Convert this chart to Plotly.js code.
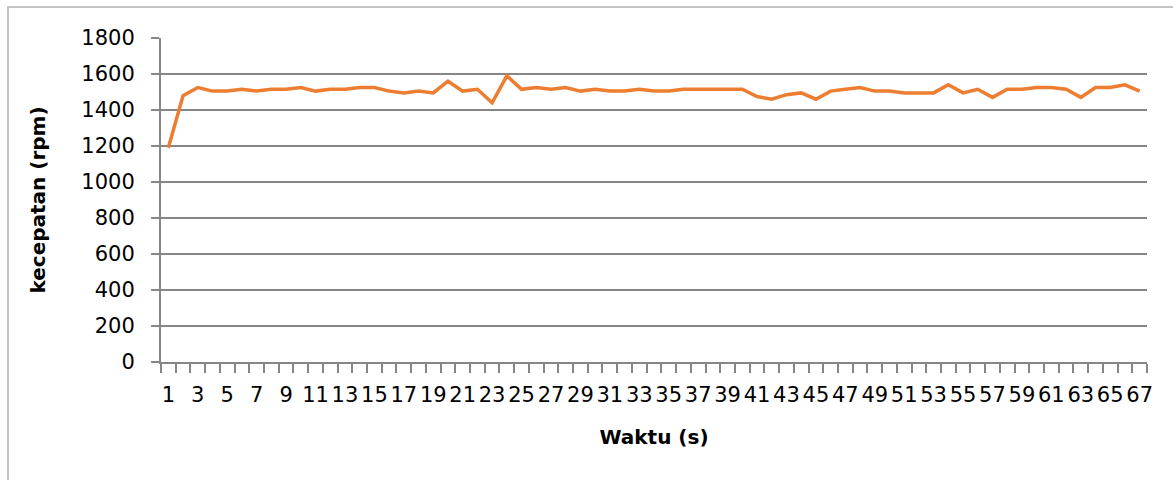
<!DOCTYPE html>
<html>
<head>
<meta charset="utf-8">
<script src="https://cdn.plot.ly/plotly-3.0.1.min.js"></script>
<style>
  html, body { margin: 0; padding: 0; background: #ffffff; }
  #wrap { position: relative; width: 1173px; height: 480px; overflow: hidden; background: #ffffff; }
  #frame { position: absolute; left: 7px; top: 6px; width: 1400px; height: 700px;
           border-left: 2px solid #c4c4c4; border-top: 2px solid #c4c4c4; }
  #chart { position: absolute; left: 0; top: 0; width: 1173px; height: 480px; }
</style>
</head>
<body>
<div id="wrap">
  <div id="frame"></div>
  <div id="chart"></div>
</div>
<script>
// Time (s)
const waktu = [1,2,3,4,5,6,7,8,9,10,11,12,13,14,15,16,17,18,19,20,
  21,22,23,24,25,26,27,28,29,30,31,32,33,34,35,36,37,38,39,40,
  41,42,43,44,45,46,47,48,49,50,51,52,53,54,55,56,57,58,59,60,
  61,62,63,64,65,66,67];
// Speed (rpm)
const kecepatan = [1190,1480,1525,1505,1505,1515,1505,1515,1515,1525,
  1505,1515,1515,1525,1525,1505,1495,1505,1495,1560,
  1505,1515,1440,1590,1515,1525,1515,1525,1505,1515,
  1505,1505,1515,1505,1505,1515,1515,1515,1515,1515,
  1475,1460,1485,1495,1460,1505,1515,1525,1505,1505,
  1495,1495,1495,1540,1495,1515,1470,1515,1515,1525,
  1525,1515,1470,1525,1525,1540,1505];
// Labelled x ticks
const xTickLabels = [1,3,5,7,9,11,13,15,17,19,21,23,25,27,29,31,33,35,37,39,
  41,43,45,47,49,51,53,55,57,59,61,63,65,67];
const yTicks = [0,200,400,600,800,1000,1200,1400,1600,1800];

const axisGray = '#868686';
const fontFam = '"DejaVu Sans", sans-serif';

const trace = {
  x: waktu,
  y: kecepatan,
  type: 'scatter',
  mode: 'lines',
  line: { color: '#ED7D31', width: 3.5 },
  hoverinfo: 'x+y'
};

const layout = {
  width: 1173,
  height: 480,
  paper_bgcolor: 'rgba(0,0,0,0)',
  plot_bgcolor: 'rgba(0,0,0,0)',
  margin: { l: 161, r: 26, t: 38, b: 118 },
  showlegend: false,
  font: { family: fontFam, color: '#000000', size: 21 },
  xaxis: {
    range: [0.5, 67.5],
    tickmode: 'array',
    tickvals: xTickLabels,
    ticktext: xTickLabels.map(String),
    ticks: '',
    ticklabelstandoff: 13,
    tickfont: { family: fontFam, size: 21, color: '#000000' },
    showgrid: false,
    zeroline: false,
    showline: true,
    linecolor: axisGray,
    linewidth: 2,
    minor: { ticks: 'outside', tick0: 0.5, dtick: 1, ticklen: 9, tickwidth: 2, tickcolor: axisGray, showgrid: false },
    title: { text: 'Waktu (s)', font: { family: fontFam, size: 20, color: '#000000', weight: 'bold' }, standoff: 24 }
  },
  yaxis: {
    range: [0, 1800],
    tickmode: 'array',
    tickvals: yTicks,
    ticktext: yTicks.map(String),
    ticks: 'outside',
    ticklen: 8,
    tickwidth: 2,
    tickcolor: axisGray,
    ticklabelstandoff: 12,
    tickfont: { family: fontFam, size: 21, color: '#000000' },
    showgrid: true,
    gridcolor: axisGray,
    gridwidth: 2,
    zeroline: false,
    showline: true,
    linecolor: axisGray,
    linewidth: 2,
    title: { text: 'kecepatan (rpm)', font: { family: fontFam, size: 20, color: '#000000', weight: 'bold' }, standoff: 30 }
  }
};

Plotly.newPlot('chart', [trace], layout, { displayModeBar: false, staticPlot: true });
</script>
</body>
</html>
